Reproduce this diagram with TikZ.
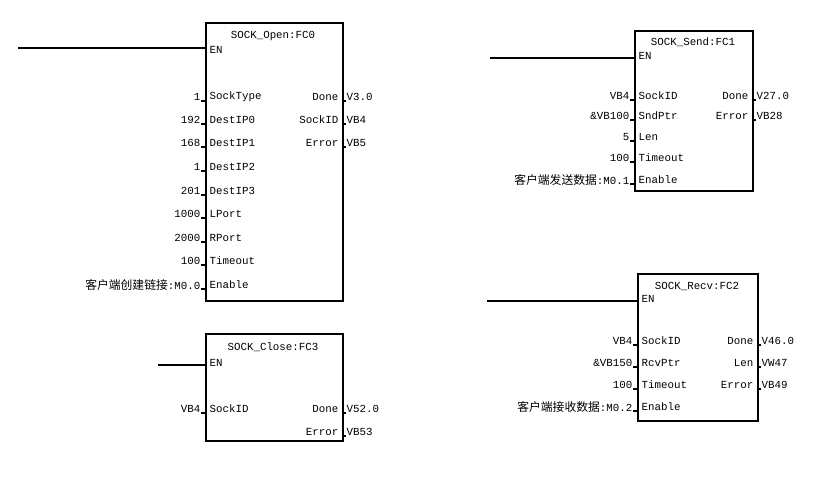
\documentclass[tikz,border=0pt]{standalone}
\usepackage{fontspec}
\setmainfont{Liberation Mono}
\newfontfamily\cjk{Noto Sans CJK SC}
\begin{document}
\begin{tikzpicture}[x=1pt,y=-1pt,
  blk/.style={draw,line width=1.6pt,inner sep=0},
  txt/.style={font=\fontsize{10.8}{12}\selectfont,inner sep=0.5pt},
  stub/.style={line width=1.6pt},
  en/.style={line width=1.6pt}]
\useasboundingbox (0,0) rectangle (835,487);
\newcommand\pinIn[5]{% name, boxx, y, pin, value
  \node[txt,anchor=west] (#1p) at (#2+4,#3) {#4};
  \node[txt,anchor=east] (#1v) at (#2-4,#3) {#5};
  \draw[stub] (#2-4,#3+4) -- (#2,#3+4);}
\newcommand\pinOut[5]{%
  \node[txt,anchor=east] (#1p) at (#2-3,#3) {#4};
  \node[txt,anchor=west] (#1v) at (#2+4,#3) {#5};
  \draw[stub] (#2,#3+4) -- (#2+4,#3+4);}
\newcommand\zh[1]{{\cjk\fontsize{11.8}{12}\selectfont #1}}
% FC0
\node[blk,minimum width=137,minimum height=278,anchor=north west] (b0) at (205,22) {};
\node[txt] (t0) at (273,36) {SOCK\_Open:FC0};
\node[txt,anchor=west] (e0) at (209,50) {EN};
\coordinate (s0) at (18,48);
\draw[en] (s0) -- (s0 -| b0.west);
\pinIn{a1}{205}{97}{SockType}{1}
\pinIn{a2}{205}{120}{DestIP0}{192}
\pinIn{a3}{205}{143}{DestIP1}{168}
\pinIn{a4}{205}{167}{DestIP2}{1}
\pinIn{a5}{205}{191}{DestIP3}{201}
\pinIn{a6}{205}{214}{LPort}{1000}
\pinIn{a7}{205}{238}{RPort}{2000}
\pinIn{a8}{205}{261}{Timeout}{100}
\pinIn{a9}{205}{285}{Enable}{\zh{客户端创建链接}:M0.0}
\pinOut{o1}{342}{97}{Done}{V3.0}
\pinOut{o2}{342}{120}{SockID}{VB4}
\pinOut{o3}{342}{143}{Error}{VB5}
% FC3
\node[blk,minimum width=137,minimum height=107,anchor=north west] (b3) at (205,333) {};
\node[txt] (t3) at (273,347) {SOCK\_Close:FC3};
\node[txt,anchor=west] (e3) at (209,363) {EN};
\coordinate (s3) at (158,365);
\draw[en] (s3) -- (s3 -| b3.west);
\pinIn{c1}{205}{409}{SockID}{VB4}
\pinOut{d1}{342}{409}{Done}{V52.0}
\pinOut{d2}{342}{432}{Error}{VB53}
% FC1
\node[blk,minimum width=118,minimum height=160,anchor=north west] (b1) at (634,30) {};
\node[txt] (t1) at (693,42) {SOCK\_Send:FC1};
\node[txt,anchor=west] (e1) at (638,56) {EN};
\coordinate (s1) at (490,58);
\draw[en] (s1) -- (s1 -| b1.west);
\pinIn{f1}{634}{96}{SockID}{VB4}
\pinIn{f2}{634}{116}{SndPtr}{\&VB100}
\pinIn{f3}{634}{137}{Len}{5}
\pinIn{f4}{634}{158}{Timeout}{100}
\pinIn{f5}{634}{180}{Enable}{\zh{客户端发送数据}:M0.1}
\pinOut{g1}{752}{96}{Done}{V27.0}
\pinOut{g2}{752}{116}{Error}{VB28}
% FC2
\node[blk,minimum width=120,minimum height=147,anchor=north west] (b2) at (637,273) {};
\node[txt] (t2) at (697,286) {SOCK\_Recv:FC2};
\node[txt,anchor=west] (e2) at (641,299) {EN};
\coordinate (s2) at (487,301);
\draw[en] (s2) -- (s2 -| b2.west);
\pinIn{h1}{637}{341}{SockID}{VB4}
\pinIn{h2}{637}{363}{RcvPtr}{\&VB150}
\pinIn{h3}{637}{385}{Timeout}{100}
\pinIn{h4}{637}{407}{Enable}{\zh{客户端接收数据}:M0.2}
\pinOut{k1}{757}{341}{Done}{V46.0}
\pinOut{k2}{757}{363}{Len}{VW47}
\pinOut{k3}{757}{385}{Error}{VB49}
\end{tikzpicture}
\end{document}
